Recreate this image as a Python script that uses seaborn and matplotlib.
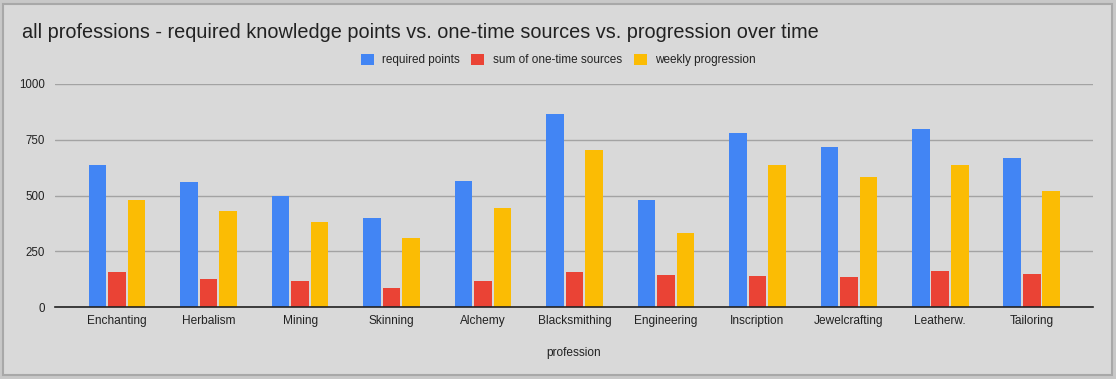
import matplotlib
matplotlib.use("Agg")
import matplotlib.pyplot as plt
import seaborn as sns
import pandas as pd
from matplotlib.patches import Rectangle, Patch

professions = ["Enchanting", "Herbalism", "Mining", "Skinning", "Alchemy", "Blacksmithing",
               "Engineering", "Inscription", "Jewelcrafting", "Leatherw.", "Tailoring"]
required_points = [637, 560, 499, 401, 567, 867, 481, 782, 719, 800, 670]
one_time_sources = [158, 127, 118, 87, 118, 158, 145, 141, 136, 163, 149]
weekly_progression = [481, 432, 383, 311, 445, 706, 333, 638, 584, 638, 522]

series_names = ["required points", "sum of one-time sources", "weekly progression"]
colors = ["#4285F4", "#EA4335", "#FBBC04"]

df = pd.DataFrame({
    "profession": professions * 3,
    "value": required_points + one_time_sources + weekly_progression,
    "series": [series_names[0]] * 11 + [series_names[1]] * 11 + [series_names[2]] * 11,
})

sns.set_style("white")
plt.rcParams["font.family"] = ["Liberation Sans", "DejaVu Sans"]

bg = "#d9d9d9"
fig = plt.figure(figsize=(11.16, 3.79), dpi=100)
fig.patch.set_facecolor("#c8c8c8")
fig.patches.append(Rectangle((3 / 1116, 4 / 379), 1109 / 1116, 371 / 379,
                             transform=fig.transFigure, facecolor=bg,
                             edgecolor="#a8a8a8", linewidth=1.5, zorder=-10))

ax = fig.add_axes([55 / 1116, 1 - 307 / 379, 1038 / 1116, 223 / 379])
ax.set_facecolor(bg)

sns.barplot(data=df, x="profession", y="value", hue="series", palette=colors,
            width=0.64, gap=0.1, ax=ax, legend=False, saturation=1, linewidth=0)

ax.set_ylim(0, 1000)
ax.set_yticks([0, 250, 500, 750, 1000])
ax.set_xlim(-0.68, 10.67)
ax.yaxis.grid(True, color="#a3a3a3", linewidth=1)
ax.set_axisbelow(True)
for s in ["top", "right", "left"]:
    ax.spines[s].set_visible(False)
ax.spines["bottom"].set_color("#222222")
ax.spines["bottom"].set_linewidth(1.2)
ax.spines["bottom"].set_zorder(5)
ax.tick_params(axis="both", length=0, labelsize=8.6, colors="#222222")
ax.tick_params(axis="x", pad=6)
ax.tick_params(axis="y", pad=7, labelsize=8.3)
ax.set_ylabel("")
ax.set_xlabel("profession", fontsize=8.6, color="#222222", labelpad=14)

handles = [Patch(facecolor=c, edgecolor="none") for c in colors]
fig.legend(handles, series_names, loc="center", bbox_to_anchor=(558 / 1116, 1 - 60 / 379),
           ncol=3, frameon=False, fontsize=8.5, handlelength=1.1, handleheight=1.1,
           columnspacing=1.0, handletextpad=0.7, labelcolor="#222222")

fig.text(22 / 1116, 1 - 33 / 379, "all professions - required knowledge points vs. one-time sources vs. progression over time",
         fontsize=14.3, va="center", ha="left", color="#222222")

fig.savefig("out.png", dpi=100, facecolor=fig.get_facecolor())
